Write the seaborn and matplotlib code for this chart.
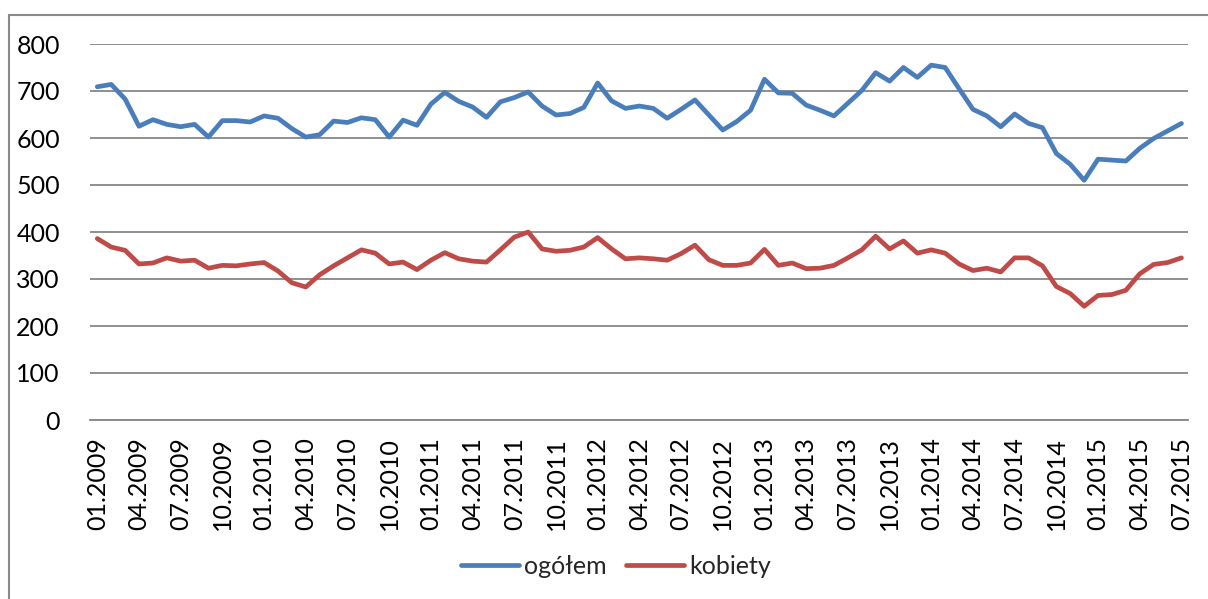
import numpy as np
import pandas as pd
import matplotlib
matplotlib.use("Agg")
import matplotlib.pyplot as plt
import seaborn as sns
from matplotlib.patches import Rectangle

# monthly values 01.2009 - 07.2015
ogolem = [709, 714, 683, 625, 639, 629, 624, 629, 602, 637, 637, 634,
          647, 642, 620, 602, 607, 636, 633, 643, 639, 602, 638, 627,
          672, 697, 678, 666, 644, 677, 686, 698, 668, 649, 652, 665,
          717, 679, 663, 668, 663, 642, 661, 681, 649, 617, 635, 659,
          725, 696, 695, 670, 659, 647, 674, 701, 739, 721, 750, 729,
          755, 750, 705, 661, 647, 624, 651, 631, 622, 567, 544, 510,
          555, 553, 551, 578, 599, 615, 631]
kobiety = [386, 368, 361, 332, 334, 345, 338, 340, 323, 329, 328, 332,
           335, 317, 292, 283, 309, 328, 345, 362, 355, 332, 336, 320,
           340, 356, 343, 338, 336, 362, 389, 400, 364, 359, 361, 368,
           388, 364, 343, 345, 343, 340, 354, 372, 341, 329, 329, 334,
           363, 329, 334, 322, 323, 329, 345, 362, 391, 364, 381, 355,
           362, 355, 332, 318, 323, 315, 345, 345, 328, 284, 269, 242,
           265, 267, 276, 311, 331, 335, 345]

months = [f"{m:02d}.{y}" for y in range(2009, 2016) for m in range(1, 13)][:len(ogolem)]
series_names = ["ogółem", "kobiety"]
colors = ["#4A7EBB", "#BE4B48"]

df = pd.DataFrame({
    "idx": list(range(len(months))) * 2,
    "value": ogolem + kobiety,
    "series": [series_names[0]] * len(months) + [series_names[1]] * len(months),
})

sns.set_style("white")
plt.rcParams["font.family"] = ["Lato", "DejaVu Sans"]

W, H = 1208, 599
fig = plt.figure(figsize=(W / 100, H / 100), dpi=100)
ax = fig.add_axes([90.35 / W, (H - 420) / H, (1188.4 - 90.35) / W, (420 - 44) / H])

sns.lineplot(data=df, x="idx", y="value", hue="series", palette=colors,
             linewidth=3.4, ax=ax, legend=False)

ax.set_xlim(-0.5, len(months) - 0.5)
ax.set_ylim(0, 800)
ax.set_yticks(range(0, 801, 100))
ax.set_xticks(range(0, len(months), 3))
ax.set_xticklabels(months[::3], rotation=90)
ax.set_xlabel("")
ax.set_ylabel("")
ax.tick_params(axis="both", length=0, labelsize=18, colors="black")
ax.tick_params(axis="x", pad=12)
ax.tick_params(axis="y", pad=22)
ax.grid(axis="y", color="#878787", linewidth=1.3)
ax.set_axisbelow(True)
for side in ["top", "right", "left"]:
    ax.spines[side].set_visible(False)
ax.spines["bottom"].set_color("#878787")
ax.spines["bottom"].set_linewidth(1.3)

handles = [plt.Line2D([], [], color=c, linewidth=3.4, solid_capstyle="round") for c in colors]
fig.legend(handles, series_names, loc="center", bbox_to_anchor=(616 / W, (H - 566) / H),
           ncol=2, frameon=False, fontsize=18, handlelength=2.3, handletextpad=0.2,
           columnspacing=0.8)

# outer chart border
fig.add_artist(Rectangle((9 / W, -0.1), 1.2, (H - 15) / H + 0.1, transform=fig.transFigure,
                         fill=False, edgecolor="#898989", linewidth=1.5))

fig.savefig("out.png", dpi=100, facecolor="white")
